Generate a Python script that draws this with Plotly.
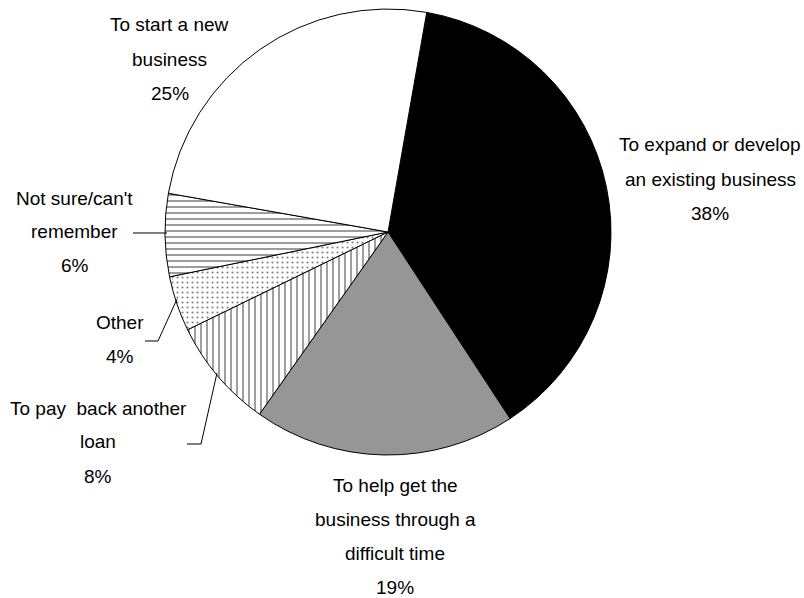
import plotly.graph_objects as go

W, H = 804, 598

# ---- data ----
labels = [
    "To expand or develop an existing business",
    "To help get the business through a difficult time",
    "To pay back another loan",
    "Other",
    "Not sure/can't remember",
    "To start a new business",
]
values = [38, 19, 8, 4, 6, 25]
label_lines = [
    ["To expand or develop", "an existing business"],
    ["To help get the", "business through a", "difficult time"],
    ["To pay  back another", "loan"],
    ["Other"],
    ["Not sure/can't", "remember"],
    ["To start a new", "business"],
]

# ---- styling ----
colors = ["#000000", "#969696", "#ffffff", "#ffffff", "#ffffff", "#ffffff"]
shapes_pat = ["", "", "|", ".", "-", ""]
pat_sizes = [8, 8, 6, 5, 6, 8]
pat_solid = [0.3, 0.3, 0.25, 0.14, 0.3, 0.3]
pat_fg = ["#000000", "#000000", "#000000", "#000000", "#222222", "#000000"]

# label placement (pixel centers of first line, line spacing)
label_pos = [(710, 145), (395, 485), (98, 408), (120, 322), (74.5, 198), (169.5, 25)]
line_gap = 34

def px(x):
    return x / W

def py(y):
    return 1 - y / H

fig = go.Figure(go.Pie(
    labels=labels,
    values=values,
    sort=False,
    direction="clockwise",
    rotation=10,
    textinfo="none",
    hoverinfo="label+percent",
    marker=dict(
        colors=colors,
        line=dict(color="#000000", width=1),
        pattern=dict(shape=shapes_pat, size=pat_sizes, solidity=pat_solid,
                     fgcolor=pat_fg, bgcolor="#ffffff", fillmode="overlay"),
    ),
    domain=dict(x=[px(165), px(611)], y=[py(455), py(9)]),
    showlegend=False,
))

font = dict(family="Liberation Sans, Arial, sans-serif", size=19, color="#000000")
annotations = []
for lines, v, (cx, cy) in zip(label_lines, values, label_pos):
    all_lines = lines + [f"{v}%"]
    for i, t in enumerate(all_lines):
        annotations.append(dict(
            x=px(cx), y=py(cy + i * line_gap), xref="paper", yref="paper",
            text=t, showarrow=False, xanchor="center", yanchor="middle", font=font,
        ))

leaders = [
    [(133, 233), (167, 233)],
    [(145, 341), (158, 341), (177, 299)],
    [(187, 444), (201, 444), (217, 373)],
]
shapes = []
for pts in leaders:
    path = "M " + " L ".join(f"{px(x):.5f},{py(y):.5f}" for x, y in pts)
    shapes.append(dict(type="path", path=path, xref="paper", yref="paper",
                       line=dict(color="#000000", width=1)))

fig.update_layout(
    width=W, height=H,
    margin=dict(l=0, r=0, t=0, b=0),
    paper_bgcolor="#ffffff",
    plot_bgcolor="#ffffff",
    annotations=annotations,
    shapes=shapes,
)

fig.write_html(
    "out.html",
    config={"displayModeBar": False},
    post_script="document.body.style.margin='0';document.body.style.overflow='hidden';",
)
